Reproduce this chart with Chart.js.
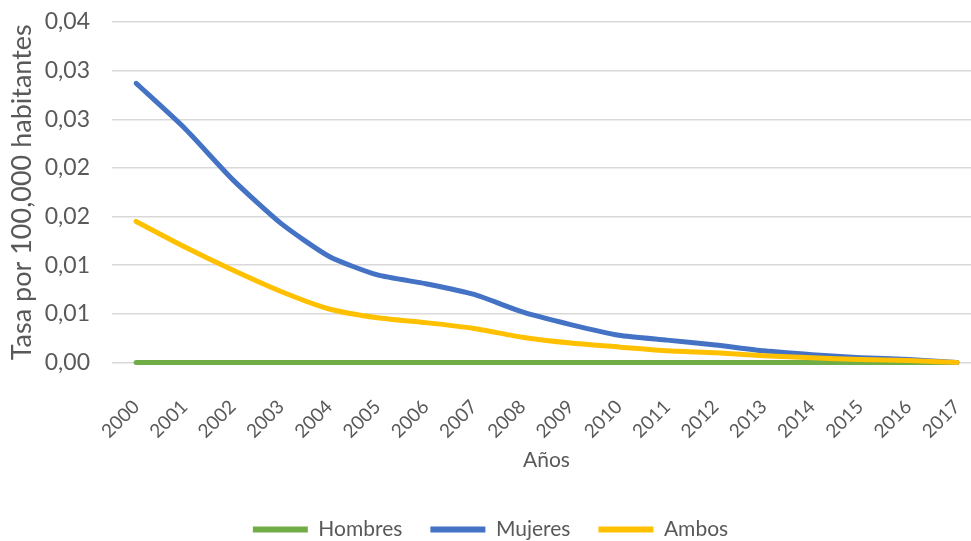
<!DOCTYPE html>
<html>
<head>
<meta charset="utf-8">
<script src="https://cdn.jsdelivr.net/npm/chart.js@4"></script>
<style>
  html, body { margin: 0; padding: 0; background: #fff; overflow: hidden; }
  #wrap { width: 985px; height: 541px; position: relative; }
</style>
</head>
<body>
<div id="wrap"><canvas id="chart"></canvas></div>
<script>
const years = ["2000", "2001", "2002", "2003", "2004", "2005", "2006", "2007", "2008",
  "2009", "2010", "2011", "2012", "2013", "2014", "2015", "2016", "2017"];
const hombres = [0, 0, 0, 0, 0, 0, 0, 0, 0, 0, 0, 0, 0, 0, 0, 0, 0, 0];
const mujeres = [0.0287, 0.0241, 0.0188, 0.0143, 0.0109, 0.0090, 0.0081, 0.0070, 0.0052,
  0.0039, 0.0028, 0.0023, 0.0018, 0.0012, 0.0008, 0.0005, 0.0003, 0.0000];
const ambos = [0.0145, 0.0119, 0.0095, 0.0073, 0.0055, 0.0046, 0.0041, 0.0035, 0.0026,
  0.0020, 0.0016, 0.0012, 0.0010, 0.0007, 0.0005, 0.0003, 0.0002, 0.0000];
const yTicks = { min: 0, max: 0.035, step: 0.005 };

const font = "Lato, 'Open Sans', sans-serif";
const grey = "#595959";

const line = (label, data, color, order) => ({
  label, data, order,
  borderColor: color,
  backgroundColor: color,
  borderWidth: 5,
  borderCapStyle: "round",
  pointRadius: 0,
  tension: 0.2,
  clip: false
});

new Chart(document.getElementById("chart"), {
  type: "line",
  data: {
    labels: years,
    datasets: [
      line("Hombres", hombres, "#70AD47", 2),
      line("Mujeres", mujeres, "#4472C4", 1),
      line("Ambos", ambos, "#FFC000", 0)
    ]
  },
  options: {
    responsive: true,
    maintainAspectRatio: false,
    animation: false,
    layout: { padding: { top: 22, right: 4, left: 0, bottom: -9 } },
    plugins: {
      tooltip: { enabled: false },
      legend: {
        position: "bottom",
        labels: {
          font: { family: font, size: 21 },
          color: grey,
          boxWidth: 55,
          boxHeight: 6,
          padding: 28,
          sort: (a, b) => a.datasetIndex - b.datasetIndex,
          generateLabels: chart => Chart.defaults.plugins.legend.labels.generateLabels(chart)
            .map(item => ({ ...item, lineWidth: 0 }))
        }
      }
    },
    scales: {
      x: {
        offset: true,
        // tick marks are hidden, their length only spaces the labels
        grid: { display: false, drawTicks: true, tickLength: 33 },
        border: { display: false },
        ticks: {
          color: grey,
          font: { family: font, size: 19 },
          minRotation: 45,
          maxRotation: 45,
          padding: 0
        },
        title: {
          display: true,
          text: "Años",
          color: grey,
          font: { family: font, size: 21 },
          padding: { top: 5, bottom: 18 }
        }
      },
      y: {
        min: yTicks.min,
        max: yTicks.max,
        border: { display: false },
        grid: { color: "#D9D9D9", lineWidth: 1.5, drawTicks: true, tickLength: 22, tickColor: "transparent" },
        afterFit: scale => { scale.width = 112; },
        ticks: {
          stepSize: yTicks.step,
          color: grey,
          font: { family: font, size: 23 },
          padding: 0,
          callback: v => (Math.round(v * 100) / 100).toFixed(2).replace(".", ",")
        },
        title: {
          display: true,
          text: "Tasa por 100,000 habitantes",
          color: grey,
          font: { family: font, size: 27 },
          padding: { top: 6, bottom: 0 }
        }
      }
    }
  }
});
</script>
</body>
</html>
